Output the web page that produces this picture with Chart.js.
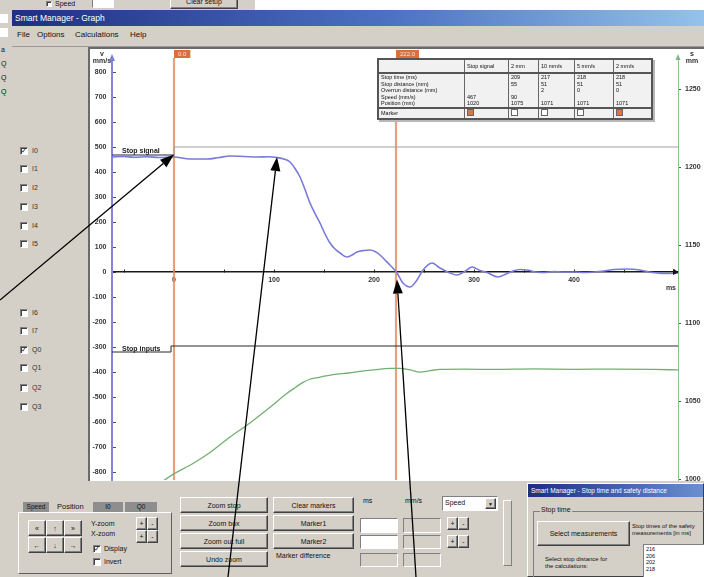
<!DOCTYPE html>
<html>
<head>
<meta charset="utf-8">
<title>Smart Manager - Graph</title>
<script src="https://cdn.jsdelivr.net/npm/chart.js@4.4.0/dist/chart.umd.min.js"></script>
<style>
  body { margin:0; width:704px; height:577px; overflow:hidden; position:relative; background:#fff;
         font-family:"Liberation Sans", Arial, sans-serif; color:#111; }
  .abs { position:absolute; }
  .gray { background:#d4d0c8; }
  .btn { position:absolute; box-sizing:border-box; background:#d4d0c8; border:1px solid;
         border-color:#fff #404040 #404040 #fff; box-shadow:inset -1px -1px #808080;
         font-size:7px; display:flex; align-items:center; justify-content:center; white-space:nowrap; }
  .cb { position:absolute; box-sizing:border-box; width:8px; height:8px; background:#fff; border:1px solid;
        border-color:#808080 #fff #fff #808080; box-shadow:inset 1px 1px #404040;
        font-size:7px; line-height:6px; text-align:center; font-family:"DejaVu Sans"; }
  .lbl { position:absolute; font-size:7px; white-space:nowrap; }
  .field { position:absolute; box-sizing:border-box; border:1px solid; border-color:#808080 #fff #fff #808080; }
  #panel { left:88px; top:47px; width:616px; height:434px; box-sizing:border-box; overflow:hidden;
           border-top:2px solid #6a6a6a; border-left:2px solid #6a6a6a; background:#fff; }
  #graph { position:absolute; left:0; top:-4px; }
  #tbl { left:377px; top:58px; border-collapse:collapse; background:#f1f1f1; font-size:5.5px;
         border:2px solid #555; box-shadow:2px 2px 0 #b8b8b8; }
  #tbl td { border:1px solid #666; padding:0 2px; vertical-align:top; line-height:6.5px; white-space:nowrap; }
  #tbl tr.head td { height:12px; vertical-align:middle; border-bottom:2px solid #555; }
  #tbl tr.mark td { height:9px; border-top:2px solid #555; vertical-align:middle; }
  .mk { display:inline-block; width:5px; height:5px; border:1px solid #666; background:#fff; }
  .mk.on { background:#d9773f; }
  #arrows { position:absolute; left:0; top:0; pointer-events:none; z-index:20; }
</style>
</head>
<body>

<!-- windows behind -->
<div class="abs gray" style="left:0;top:0;width:255px;height:10px"></div>
<div class="cb" style="left:46px;top:1px;width:6px;height:6px"></div>
<div class="lbl" style="left:55px;top:0px">Speed</div>
<div class="field" style="left:92px;top:-3px;width:22px;height:11px;background:#fff"></div>
<div class="btn" style="left:170px;top:-6px;width:68px;height:15px">Clear setup</div>
<div class="abs gray" style="left:0;top:10px;width:12px;height:567px;border-right:1px solid #8a8a8a"></div>
<div class="abs" style="left:0;top:14px;width:8px;height:9px;background:#fff"></div>
<div class="abs" style="left:0;top:28px;width:8px;height:9px;background:#fff"></div>
<div class="lbl" style="left:1px;top:46px">a</div>
<div class="lbl" style="left:1px;top:60px">Q</div>
<div class="lbl" style="left:1px;top:74px">Q</div>
<div class="lbl" style="left:1px;top:88px">Q</div>

<!-- main window -->
<div class="abs gray" style="left:12px;top:10px;width:692px;height:567px"></div>
<div class="abs" style="left:12px;top:10px;width:692px;height:16px;background:linear-gradient(to right,#1f2f82,#4d72c2 55%,#93c2ea);
     color:#fff;font-size:8.5px;line-height:16px;padding-left:3px;box-sizing:border-box">Smart Manager - Graph</div>
<div class="lbl" style="left:17px;top:30px;font-size:8px">File</div>
<div class="lbl" style="left:37px;top:30px;font-size:8px">Options</div>
<div class="lbl" style="left:75px;top:30px;font-size:8px">Calculations</div>
<div class="lbl" style="left:130px;top:30px;font-size:8px">Help</div>
<div class="abs" style="left:12px;top:46px;width:692px;height:1px;background:#9a9a9a"></div>

<!-- signal checkboxes -->
<div id="signals"></div>

<!-- chart panel -->
<div id="panel" class="abs"><canvas id="graph" width="614" height="448"></canvas></div>

<table id="tbl" class="abs">
  <tr class="head"><td style="width:81px"></td><td style="width:39px">Stop signal</td><td style="width:25px">2 mm</td>
      <td style="width:31px">10 mm/s</td><td style="width:34px">5 mm/s</td><td style="width:33px">2 mm/s</td></tr>
  <tr><td>Stop time (ms)<br>Stop distance (mm)<br>Overrun distance (mm)<br>Speed (mm/s)<br>Position (mm)</td>
      <td><br><br><br>467<br>1020</td><td>209<br>55<br><br>90<br>1075</td><td>217<br>51<br>2<br><br>1071</td>
      <td>218<br>51<br>0<br><br>1071</td><td>218<br>51<br>0<br><br>1071</td></tr>
  <tr class="mark"><td>Marker</td><td><span class="mk on"></span></td><td><span class="mk"></span></td>
      <td><span class="mk"></span></td><td><span class="mk"></span></td><td><span class="mk on"></span></td></tr>
</table>

<!-- bottom controls -->
<div class="abs" style="left:23px;top:502px;width:26px;height:10px;background:#8e8e8e;font-size:6.5px;text-align:center;line-height:10px">Speed</div>
<div class="lbl" style="left:57px;top:502px;font-size:7.5px">Position</div>
<div class="abs" style="left:93px;top:502px;width:30px;height:10px;background:#8e8e8e;font-size:6.5px;text-align:center;line-height:10px">I0</div>
<div class="abs" style="left:125px;top:502px;width:32px;height:10px;background:#8e8e8e;font-size:6.5px;text-align:center;line-height:10px">Q0</div>
<div class="abs" style="left:18px;top:512px;width:154px;height:62px;box-sizing:border-box;border:1px solid;border-color:#fff #606060 #606060 #fff"></div>
<div class="btn" style="left:28px;top:520px;width:18px;height:16px">«</div>
<div class="btn" style="left:46px;top:520px;width:18px;height:16px">↑</div>
<div class="btn" style="left:64px;top:520px;width:18px;height:16px">»</div>
<div class="btn" style="left:28px;top:537px;width:18px;height:16px">←</div>
<div class="btn" style="left:46px;top:537px;width:18px;height:16px">↓</div>
<div class="btn" style="left:64px;top:537px;width:18px;height:16px">→</div>
<div class="lbl" style="left:91px;top:520px">Y-zoom</div>
<div class="lbl" style="left:91px;top:530px">X-zoom</div>
<div class="btn" style="left:136px;top:517px;width:11px;height:13px">+</div>
<div class="btn" style="left:147px;top:517px;width:11px;height:13px">-</div>
<div class="btn" style="left:136px;top:530px;width:11px;height:13px">+</div>
<div class="btn" style="left:147px;top:530px;width:11px;height:13px">-</div>
<div class="cb" style="left:93px;top:545px">✓</div>
<div class="lbl" style="left:104px;top:545px">Display</div>
<div class="cb" style="left:93px;top:558px"></div>
<div class="lbl" style="left:104px;top:558px">Invert</div>

<div class="btn" style="left:180px;top:497px;width:88px;height:16px">Zoom stop</div>
<div class="btn" style="left:180px;top:515px;width:88px;height:16px">Zoom box</div>
<div class="btn" style="left:180px;top:533px;width:88px;height:16px">Zoom out full</div>
<div class="btn" style="left:180px;top:551px;width:88px;height:16px">Undo zoom</div>
<div class="btn" style="left:273px;top:497px;width:81px;height:16px">Clear markers</div>
<div class="btn" style="left:273px;top:515px;width:81px;height:16px">Marker1</div>
<div class="btn" style="left:273px;top:533px;width:81px;height:16px">Marker2</div>
<div class="lbl" style="left:276px;top:552px">Marker difference</div>

<div class="lbl" style="left:363px;top:497px">ms</div>
<div class="lbl" style="left:405px;top:497px">mm/s</div>
<div class="field" style="left:360px;top:518px;width:38px;height:15px;background:#fff"></div>
<div class="field" style="left:360px;top:535px;width:38px;height:14px;background:#fff"></div>
<div class="field" style="left:360px;top:553px;width:38px;height:14px"></div>
<div class="field" style="left:403px;top:518px;width:38px;height:15px"></div>
<div class="field" style="left:403px;top:535px;width:38px;height:14px"></div>
<div class="field" style="left:403px;top:553px;width:38px;height:14px"></div>
<div class="field" style="left:442px;top:496px;width:56px;height:15px;background:#fff;font-size:7px;padding-left:2px;line-height:12px">Speed</div>
<div class="btn" style="left:485px;top:498px;width:11px;height:11px;font-size:5px">▼</div>
<div class="btn" style="left:447px;top:517px;width:11px;height:13px">+</div>
<div class="btn" style="left:458px;top:517px;width:11px;height:13px">-</div>
<div class="btn" style="left:447px;top:535px;width:11px;height:13px">+</div>
<div class="btn" style="left:458px;top:535px;width:11px;height:13px">-</div>
<div class="abs" style="left:503px;top:500px;width:9px;height:66px;box-sizing:border-box;border:1px solid;border-color:#fff #808080 #808080 #fff"></div>

<!-- stop time window -->
<div class="abs gray" style="left:527px;top:483px;width:177px;height:94px;box-sizing:border-box;border:1px solid;border-color:#fff #404040 #404040 #fff">
  <div style="height:13px;background:linear-gradient(to right,#1c2e84,#6a8fd0);color:#fff;font-size:6.5px;line-height:13px;padding-left:3px;white-space:nowrap;overflow:hidden">Smart Manager - Stop time and safety distance</div>
  <div class="abs" style="left:5px;top:27px;width:175px;height:70px;box-sizing:border-box;border:1px solid;border-color:#808080 #fff #fff #808080"></div>
  <div class="lbl" style="left:12px;top:22px;background:#d4d0c8;padding:0 1px">Stop time</div>
  <div class="btn" style="left:9px;top:37px;width:93px;height:25px">Select measurements</div>
  <div class="lbl" style="left:104px;top:39px;font-size:6px;line-height:7px">Stop times of the safety<br>measurements [in ms]</div>
  <div class="lbl" style="left:17px;top:72px;font-size:6px;line-height:7px">Select stop distance for<br>the calculations:</div>
  <div class="field" style="left:115px;top:60px;width:62px;height:40px;background:#fff;font-size:5.5px;line-height:6.5px;padding:1px 2px">216<br>206<br>202<br>218</div>
</div>

<canvas id="arrows" width="704" height="577"></canvas>

<script>
// speed (mm/s) vs time (ms), left axis
const speedTime = [-62, -50, -40, -27, -15, 0, 16, 33, 45, 56, 70, 83, 95, 103, 110, 116, 121, 126, 131, 136,
  141, 146, 151, 156, 161, 166, 173, 178, 183, 190, 196, 201, 206, 211, 216, 223, 229, 236, 243, 249,
  258, 266, 276, 283, 290, 298, 306, 313, 324, 332, 339, 346, 353, 362, 370, 380, 390, 400, 410, 420,
  430, 440, 453, 466, 475, 483, 492, 504];
const speedValue = [460, 462, 459, 461, 458, 460, 452, 452, 458, 464, 462, 460, 461, 458, 452, 440, 414, 380, 330, 276,
  234, 196, 152, 116, 92, 76, 60, 68, 80, 86, 88, 82, 68, 48, 28, -4, -44, -60, -32, 8,
  36, 16, -4, -12, 0, 20, 6, -2, -20, -8, 4, 10, 8, 0, -2, 2, 0, 0, -2, 0,
  4, 10, 12, 8, 0, -4, -6, -4];

// position (mm) vs time (ms), right axis
const posTime = [-30, -17, -1, 19, 36, 56, 76, 96, 113, 122, 129, 136, 143, 159, 175, 186, 200, 216, 226, 236,
  246, 256, 266, 290, 320, 360, 400, 440, 480, 504];
const posValue = [990, 996, 1003, 1010, 1017, 1027, 1036, 1046, 1055, 1059, 1062, 1064, 1065, 1067, 1068, 1069, 1070, 1071, 1071, 1070,
  1068.6, 1069.5, 1070.3, 1070.5, 1070.3, 1070.6, 1070.4, 1070.5, 1070.3, 1070];

// digital traces drawn on the speed axis
const stopSignalTime = [-62, 0, 0, 504];
const stopSignalValue = [468, 468, 500, 500];
const stopInputTime = [-62, -3, -3, 504];
const stopInputValue = [-320, -320, -296, -296];

const markerTimes = [0, 222];
const markerTexts = ["0.0", "222.0"];

const speedTicks = [-800, -700, -600, -500, -400, -300, -200, -100, 0, 100, 200, 300, 400, 500, 600, 700, 800];
const posTicks = [1000, 1050, 1100, 1150, 1200, 1250];
const timeTicks = [-50, 0, 50, 100, 150, 200, 250, 300, 350, 400, 450, 500];
const timeLabels = [0, 100, 200, 300, 400];

const speedRange = [-832, 856];
const posRange = [999.4, 1270];
const timeRange = [-62, 504];

// annotation arrows: tip in data units (time, speed), tail in page pixels
const arrowTips = [[0, 470], [103, 460], [223, -30]];
const arrowTails = [[0, 300], [228, 577], [416, 577]];

// left signal list
const signalNames = ["I0", "I1", "I2", "I3", "I4", "I5", "I6", "I7", "Q0", "Q1", "Q2", "Q3"];
const signalRows = [151, 169, 188, 207, 226, 244, 313, 331, 350, 368, 388, 407];
const signalOn = ["I0", "Q0"];

const holder = document.getElementById("signals");
signalNames.forEach((name, i) => {
  holder.innerHTML += `<div class="cb" style="left:20px;top:${signalRows[i] - 4}px">${signalOn.includes(name) ? "✓" : ""}</div>` +
    `<div class="lbl" style="left:32px;top:${signalRows[i] - 4}px;color:#333">${name}</div>`;
});

function zip(xs, ys) {
  return xs.map((x, i) => ({ x: x, y: ys[i] }));
}

const tickFont = { family: "Liberation Sans", size: 7, weight: "bold", lineHeight: 1 };

const decorations = {
  id: "decorations",
  afterDatasetsDraw(chart) {
    const { ctx, chartArea, scales } = chart;
    const x = scales.x, yv = scales.yv;
    const top = chartArea.top;
    ctx.save();

    // trace labels
    ctx.font = 'bold 7px "Liberation Sans"';
    ctx.fillStyle = "#222";
    ctx.textAlign = "left";
    ctx.textBaseline = "alphabetic";
    ctx.fillText("Stop signal", x.getPixelForValue(-52), yv.getPixelForValue(stopSignalValue[0]) - 2);
    ctx.fillText("Stop inputs", x.getPixelForValue(-52), yv.getPixelForValue(stopInputValue[0]) - 1);

    // marker tags
    ctx.font = '6px "Liberation Sans"';
    markerTimes.forEach((t, i) => {
      const px = x.getPixelForValue(t);
      const w = ctx.measureText(markerTexts[i]).width + 8;
      ctx.fillStyle = "#d9703c";
      ctx.fillRect(px, top - 8, w, 8);
      ctx.fillStyle = "#fbe3d2";
      ctx.fillText(markerTexts[i], px + 4, top - 2);
    });

    // unit labels
    ctx.fillStyle = "#333";
    ctx.font = 'bold 7px "Liberation Sans"';
    ctx.textAlign = "center";
    ctx.fillText("v", chartArea.left - 10, top - 2);
    ctx.fillText("mm/s", chartArea.left - 10, top + 5);
    ctx.fillText("s", chartArea.right + 14, top - 2);
    ctx.fillText("mm", chartArea.right + 14, top + 5);
    ctx.textAlign = "right";
    ctx.fillText("ms", chartArea.right - 2, yv.getPixelForValue(0) + 18);

    // axis end arrows
    const zy = yv.getPixelForValue(0);
    ctx.fillStyle = "#111";
    ctx.beginPath();
    ctx.moveTo(chartArea.right + 1, zy);
    ctx.lineTo(chartArea.right - 5, zy - 3);
    ctx.lineTo(chartArea.right - 5, zy + 3);
    ctx.fill();
    ctx.fillStyle = "#7d7dd8";
    ctx.beginPath();
    ctx.moveTo(chartArea.left, top - 4);
    ctx.lineTo(chartArea.left - 3, top + 3);
    ctx.lineTo(chartArea.left + 3, top + 3);
    ctx.fill();
    ctx.fillStyle = "#7fb97f";
    ctx.beginPath();
    ctx.moveTo(chartArea.right, top - 4);
    ctx.lineTo(chartArea.right - 2.5, top + 2);
    ctx.lineTo(chartArea.right + 2.5, top + 2);
    ctx.fill();
    ctx.restore();
  }
};

const chart = new Chart(document.getElementById("graph"), {
  type: "line",
  data: {
    datasets: [
      {
        label: "Speed",
        data: zip(speedTime, speedValue),
        borderColor: "#7a7ad8",
        borderWidth: 1.6,
        cubicInterpolationMode: "monotone",
        pointRadius: 0,
        yAxisID: "yv"
      },
      {
        label: "Position",
        data: zip(posTime, posValue),
        borderColor: "#72b072",
        borderWidth: 1.3,
        cubicInterpolationMode: "monotone",
        pointRadius: 0,
        yAxisID: "ys"
      },
      {
        label: "Stop signal",
        data: zip(stopSignalTime, stopSignalValue),
        segment: { borderColor: c => (c.p0.parsed.x < 0 ? "#2b2b2b" : "#a0a0a0") },
        borderWidth: 1,
        tension: 0,
        pointRadius: 0,
        yAxisID: "yv"
      },
      {
        label: "Stop inputs",
        data: zip(stopInputTime, stopInputValue),
        segment: { borderColor: c => (c.p0.parsed.x < 0 ? "#2b2b2b" : "#a0a0a0") },
        borderWidth: 1,
        tension: 0,
        pointRadius: 0,
        yAxisID: "yv"
      },
      ...markerTimes.map(t => ({
        label: "Marker",
        data: [{ x: t, y: speedRange[0] }, { x: t, y: speedRange[1] }],
        borderColor: "rgba(224,138,98,0.8)",
        borderWidth: 2.2,
        pointRadius: 0,
        yAxisID: "yv"
      }))
    ]
  },
  options: {
    responsive: false,
    animation: false,
    layout: { padding: 0 },
    plugins: { legend: { display: false }, tooltip: { enabled: false } },
    scales: {
      x: {
        type: "linear",
        z: 1,
        min: timeRange[0],
        max: timeRange[1],
        position: { yv: 0 },
        afterBuildTicks: s => { s.ticks = timeTicks.map(v => ({ value: v })); },
        ticks: {
          autoSkip: false, maxRotation: 0, padding: 8, font: tickFont, color: "#333",
          callback: v => (timeLabels.includes(v) ? String(v) : "")
        },
        grid: { drawOnChartArea: false, tickLength: -3, color: "#222" },
        border: { color: "#1a1a1a", width: 1.5 }
      },
      yv: {
        type: "linear",
        position: "left",
        min: speedRange[0],
        max: speedRange[1],
        afterBuildTicks: s => { s.ticks = speedTicks.map(v => ({ value: v })); },
        afterFit: s => { s.width = 22; },
        ticks: { autoSkip: false, padding: 9.5, font: tickFont, color: "#333", callback: v => String(v) },
        grid: { drawOnChartArea: false, tickLength: -4, color: "#555" },
        border: { color: "#8585dd", width: 2 }
      },
      ys: {
        type: "linear",
        position: "right",
        min: posRange[0],
        max: posRange[1],
        afterBuildTicks: s => { s.ticks = posTicks.map(v => ({ value: v })); },
        afterFit: s => { s.width = 26; },
        ticks: { autoSkip: false, padding: 4, font: tickFont, color: "#333", callback: v => String(v) },
        grid: { drawOnChartArea: false, tickLength: 3, color: "#555" },
        border: { color: "#8cc08c", width: 1 }
      }
    }
  },
  plugins: [decorations]
});

// black annotation arrows on top of everything
function drawArrow(ctx, x0, y0, x1, y1) {
  const a = Math.atan2(y1 - y0, x1 - x0);
  const len = 14, half = 5;
  const bx = x1 - len * Math.cos(a), by = y1 - len * Math.sin(a);
  ctx.beginPath();
  ctx.moveTo(x0, y0);
  ctx.lineTo(bx, by);
  ctx.stroke();
  ctx.beginPath();
  ctx.moveTo(x1, y1);
  ctx.lineTo(bx + half * Math.sin(a), by - half * Math.cos(a));
  ctx.lineTo(bx - half * Math.sin(a), by + half * Math.cos(a));
  ctx.closePath();
  ctx.fill();
}

const box = document.getElementById("graph").getBoundingClientRect();
const actx = document.getElementById("arrows").getContext("2d");
actx.strokeStyle = "#000";
actx.fillStyle = "#000";
actx.lineWidth = 1.3;
arrowTips.forEach((tip, i) => {
  const tx = box.left + chart.scales.x.getPixelForValue(tip[0]);
  const ty = box.top + chart.scales.yv.getPixelForValue(tip[1]);
  drawArrow(actx, arrowTails[i][0], arrowTails[i][1], tx, ty);
});
</script>
</body>
</html>
